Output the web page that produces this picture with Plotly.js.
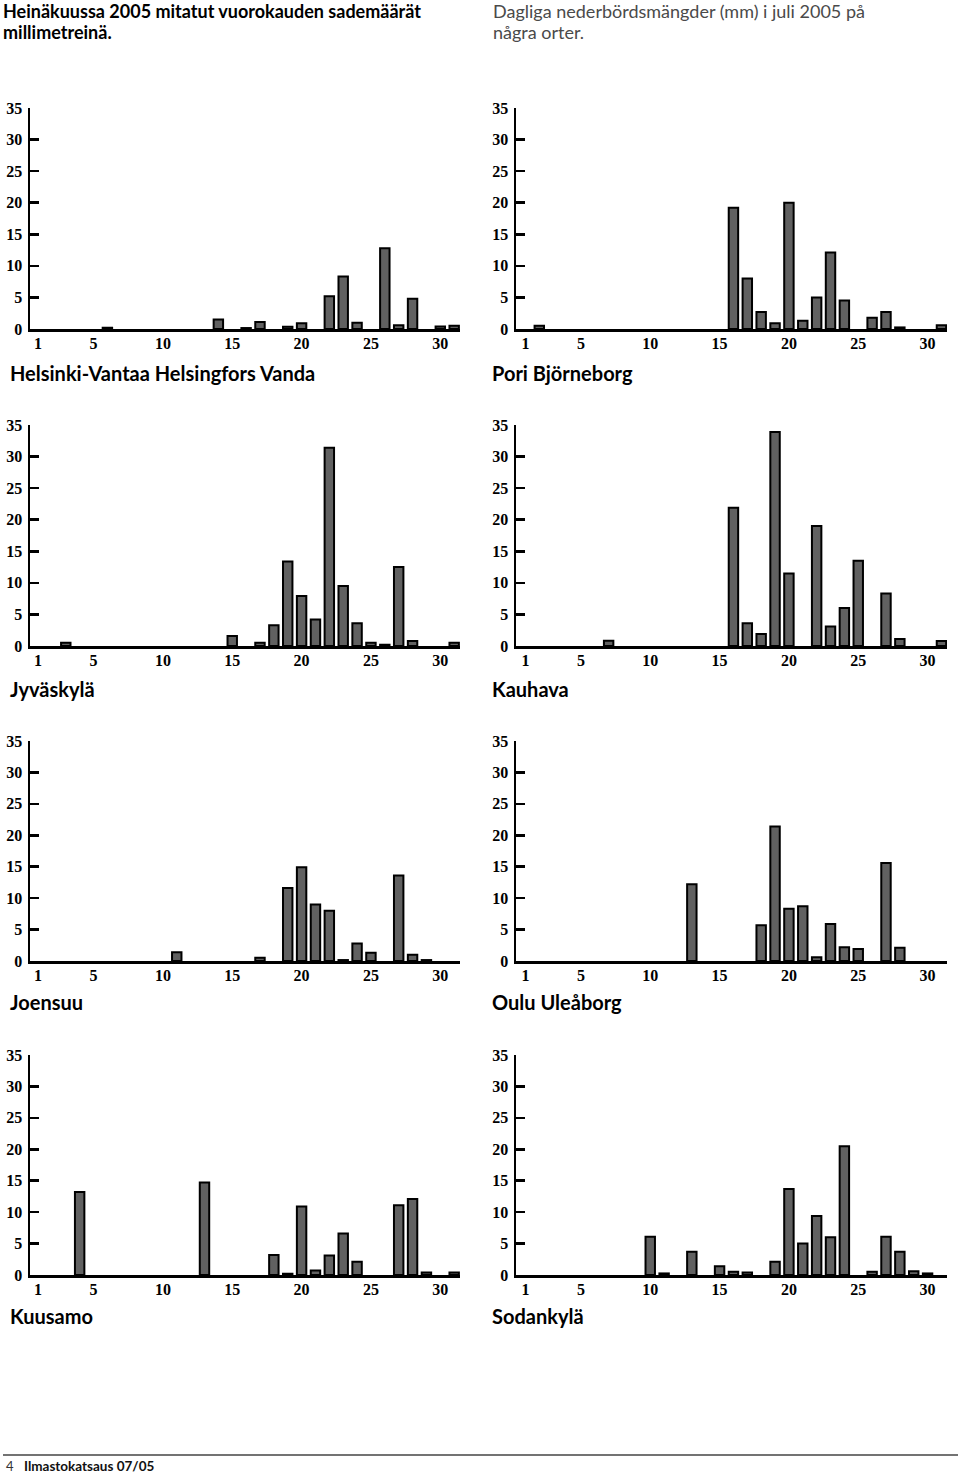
<!DOCTYPE html>
<html>
<head>
<meta charset="utf-8">
<script src="https://cdn.plot.ly/plotly-3.0.1.min.js"></script>
<style>
html,body{margin:0;padding:0;background:#fff;}
#chart{width:960px;height:1474px;}
</style>
</head>
<body>
<div id="chart"></div>
<script>
// ---- data ----
const days = [1,2,3,4,5,6,7,8,9,10,11,12,13,14,15,16,17,18,19,20,21,22,23,24,25,26,27,28,29,30,31];
const xTickVals = [1,5,10,15,20,25,30];
const yTickVals = [0,5,10,15,20,25,30,35];

const stationNames = ["Helsinki-Vantaa Helsingfors Vanda","Pori Björneborg","Jyväskylä","Kauhava","Joensuu","Oulu Uleåborg","Kuusamo","Sodankylä"];

const helsinki  = [0,0,0,0,0,0.2,0,0,0,0,0,0,0,1.5,0,0.15,1.1,0,0.35,0.9,0,5.2,8.3,1.0,0,12.8,0.6,4.8,0,0.4,0.5];
const pori      = [0,0.5,0,0,0,0,0,0,0,0,0,0,0,0,0,19.2,8.0,2.7,0.9,20.0,1.3,5.0,12.1,4.5,0,1.8,2.7,0.25,0,0,0.6];
const jyvaskyla = [0,0,0.5,0,0,0,0,0,0,0,0,0,0,0,1.6,0,0.5,3.3,13.4,7.9,4.2,31.4,9.5,3.6,0.5,0.2,12.5,0.8,0,0,0.5];
const kauhava   = [0,0,0,0,0,0,0.85,0,0,0,0,0,0,0,0,21.9,3.6,1.9,33.9,11.5,0,19.0,3.1,6.0,13.5,0,8.3,1.1,0,0,0.8];
const joensuu   = [0,0,0,0,0,0,0,0,0,0,1.4,0,0,0,0,0,0.5,0,11.6,14.9,9.0,8.0,0.15,2.8,1.3,0,13.6,1.0,0.15,0,0];
const oulu      = [0,0,0,0,0,0,0,0,0,0,0,0,12.2,0,0,0,0,5.7,21.4,8.3,8.7,0.6,5.9,2.2,1.9,0,15.6,2.1,0,0,0];
const kuusamo   = [0,0,0,13.2,0,0,0,0,0,0,0,0,14.7,0,0,0,0,3.2,0.2,10.9,0.7,3.1,6.6,2.1,0,0,11.1,12.1,0.4,0,0.4];
const sodankyla = [0,0,0,0,0,0,0,0,0,6.1,0.25,0,3.7,0,1.4,0.5,0.4,0,2.1,13.7,5.0,9.4,6.0,20.5,0,0.5,6.1,3.7,0.6,0.25,0];

const series = [helsinki,pori,jyvaskyla,kauhava,joensuu,oulu,kuusamo,sodankyla];

// ---- layout helpers ----
const W = 960, H = 1474;
const fy = p => 1 - p / H;
const fx = p => p / W;

const colX = [{d:[30,460], r:[0.42,31.42], title:8}, {d:[516,947], r:[0.32,31.4], title:490}];
const rowY = [{top:108,bot:329,title:373},{top:425,bot:646,title:689},{top:741,bot:961,title:1002},{top:1055,bot:1275,title:1316}];

const tickFont = {family:"'Liberation Serif', 'DejaVu Serif', serif", size:16, color:'#000', weight:'bold'};
const titleFont = {family:"Lato, 'Open Sans', sans-serif", size:20, color:'#000', weight:'bold'};

const traces = [];
const layout = {
  width: W, height: H,
  margin:{l:0,r:0,t:0,b:0},
  paper_bgcolor:'#fff', plot_bgcolor:'rgba(0,0,0,0)',
  showlegend:false,
  bargap:0,
  annotations:[], shapes:[]
};

series.forEach((vals,i)=>{
  const col = colX[i%2], row = rowY[Math.floor(i/2)];
  const n = i+1;
  const xa = n===1?'x':'x'+n, ya = n===1?'y':'y'+n;
  traces.push({
    type:'bar', x:days, y:vals.map(v => v === 0 ? null : v), xaxis:xa, yaxis:ya,
    width:0.68,
    marker:{color:'#616161', line:{color:'#000', width:2}},
    hoverinfo:'skip'
  });
  const xk = n===1?'xaxis':'xaxis'+n, yk = n===1?'yaxis':'yaxis'+n;
  layout[xk] = {
    domain:[fx(col.d[0]), fx(col.d[1])], range:col.r, anchor:ya,
    showline:true, linecolor:'#000', linewidth:2.5,
    ticks:'', tickvals:xTickVals, ticktext:xTickVals.map(String),
    tickfont:tickFont, showgrid:false, zeroline:false, ticklabelstandoff:-2
  };
  layout[yk] = {
    domain:[fy(row.bot), fy(row.top)], range:[0,35], anchor:xa,
    showline:true, linecolor:'#000', linewidth:2.5,
    ticks:'inside', ticklen:9, tickwidth:2.5, tickcolor:'#000',
    tickvals:yTickVals, ticktext:yTickVals.map(String),
    tickfont:tickFont, showgrid:false, zeroline:false, ticklabelstandoff:2
  };
  layout.annotations.push({
    xref:'paper', yref:'paper', x:fx(col.title), y:fy(row.title),
    xanchor:'left', yanchor:'middle', showarrow:false,
    text:stationNames[i], font:titleFont
  });
});

// header & footer
const hdrBold = {family:"Lato, 'Open Sans', sans-serif", size:18, color:'#000', weight:'bold'};
const hdrReg = {family:"Lato, 'Open Sans', sans-serif", size:18, color:'#4a4a4a'};
layout.annotations.push(
  {xref:'paper', yref:'paper', x:fx(2), y:fy(11), xanchor:'left', yanchor:'middle', showarrow:false, borderpad:0, text:'Heinäkuussa 2005 mitatut vuorokauden sademäärät', font:hdrBold},
  {xref:'paper', yref:'paper', x:fx(2), y:fy(32), xanchor:'left', yanchor:'middle', showarrow:false, borderpad:0, text:'millimetreinä.', font:hdrBold},
  {xref:'paper', yref:'paper', x:fx(492), y:fy(11), xanchor:'left', yanchor:'middle', showarrow:false, borderpad:0, text:'Dagliga nederbördsmängder (mm) i juli 2005 på', font:hdrReg},
  {xref:'paper', yref:'paper', x:fx(492), y:fy(32), xanchor:'left', yanchor:'middle', showarrow:false, borderpad:0, text:'några orter.', font:hdrReg},
  {xref:'paper', yref:'paper', x:fx(4), y:fy(1466), xanchor:'left', yanchor:'middle', showarrow:false, text:'4', font:{family:"Lato, sans-serif", size:13, color:'#333'}},
  {xref:'paper', yref:'paper', x:fx(22), y:fy(1466), xanchor:'left', yanchor:'middle', showarrow:false, text:'Ilmastokatsaus 07/05', font:{family:"Lato, sans-serif", size:13.5, color:'#111', weight:'bold'}}
);
layout.shapes.push({type:'line', xref:'paper', yref:'paper', x0:fx(3), x1:fx(958), y0:fy(1455), y1:fy(1455), line:{color:'#444', width:1.5}});

Plotly.newPlot('chart', traces, layout, {staticPlot:true, displayModeBar:false});
</script>
</body>
</html>
